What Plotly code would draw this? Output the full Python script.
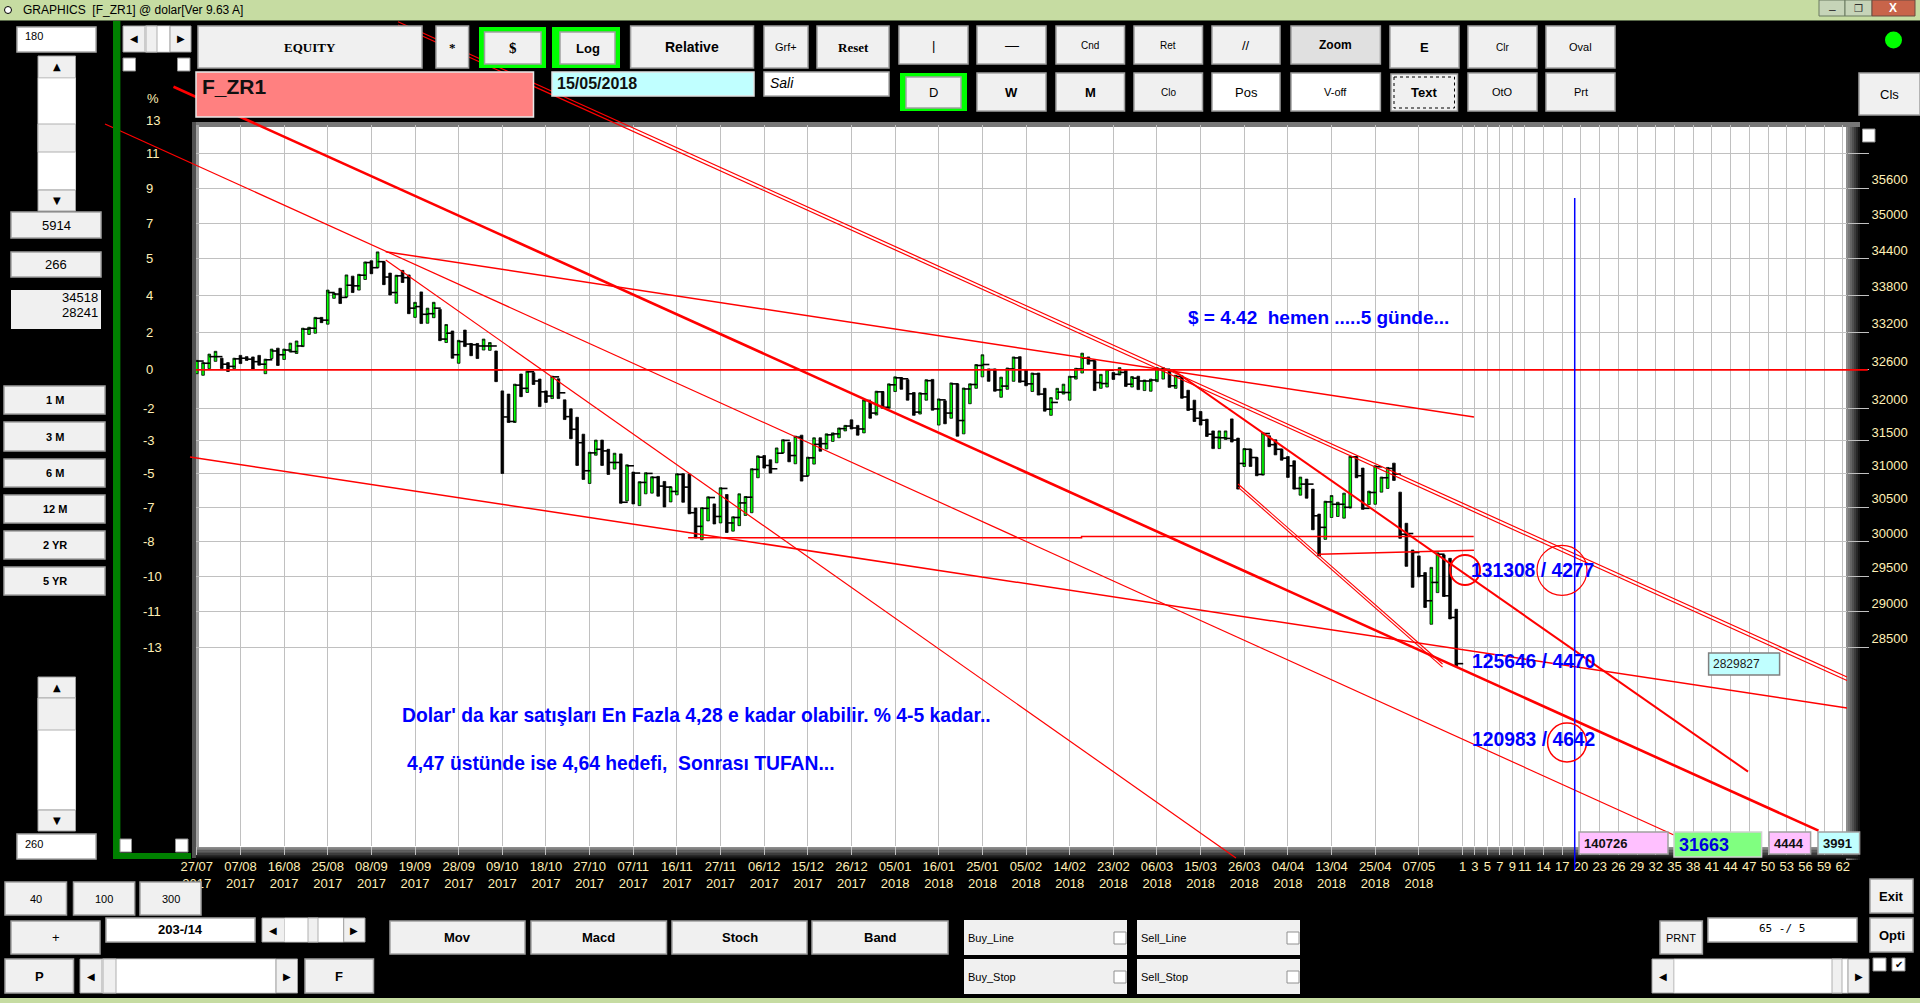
import numpy as np
import plotly.graph_objects as go

W, H = 1920, 1003
NARROW = "Liberation Sans"
SANS = "Liberation Sans"
SERIF = "Liberation Serif"
CREAM = "#ffefb5"

# bars (203 days), G = green bar, K = black bar
UP = ("GGGGKKGKKK" "KGGKGGGGGG" "KGGKGKGGKG" "KKGKKGKGGK" "GKGKKKGGKK"
      "KGKGKKKGKK" "KKKGGKKGKG" "KGGGKKGGKK" "KGGKGKGGGG" "GKKGGKGKGG"
      "KGGGGKKGKG" "KGGKKKGGKG" "KGKGGGGKKG" "GGKKGKKGGG" "GGGKKGGKGK"
      "GKGGGGKGKK" "KKKKGGKKGK" "KGKKKKKGKK" "KGGGGGKKGG" "GGKKKKKKGG"
      "KKK")

HIGHS = [32750, 32715, 32850, 32895, 32785, 32715, 32785, 32830, 32810, 32805,
         32830, 32770, 32930, 32945, 32930, 33025, 33060, 33265, 33280, 33440,
         33440, 33885, 33835, 33915, 34135, 34115, 34145, 34350, 34370, 34518,
         34355, 34165, 34130, 34210, 34135, 33685, 33855, 33590, 33685, 33570,
         33325, 33220, 33070, 33235, 33020, 33020, 33090, 33035, 32900, 32270,
         32220, 32375, 32535, 32580, 32555, 32455, 32270, 32500, 32460, 32130,
         31990, 31860, 31600, 31325, 31510, 31510, 31370, 31310, 31300, 31135,
         31025, 30880, 31015, 30955, 30960, 30885, 30805, 31000, 31000, 30995,
         30490, 30495, 30655, 30550, 30790, 30690, 30360, 30700, 30660, 31075,
         31270, 31275, 31210, 31390, 31515, 31475, 31570, 31585, 31250, 31545,
         31545, 31605, 31620, 31695, 31735, 31820, 31735, 32130, 32105, 32265,
         32260, 32380, 32490, 32480, 32445, 32245, 32240, 32445, 32450, 32145,
         32115, 32395, 32380, 32315, 32380, 32685, 32840, 32615, 32615, 32485,
         32630, 32805, 32810, 32600, 32550, 32550, 32310, 32165, 32310, 32375,
         32500, 32625, 32865, 32805, 32745, 32530, 32605, 32560, 32635, 32600,
         32495, 32500, 32440, 32455, 32635, 32635, 32595, 32515, 32505, 32280,
         32125, 31950, 31830, 31650, 31650, 31650, 31835, 31540, 31380, 31370,
         31245, 31620, 31575, 31515, 31370, 31260, 31195, 30950, 30920, 30770,
         30400, 30590, 30675, 30575, 30710, 31265, 31260, 31085, 30740, 31120,
         30950, 31095, 31160, 30725, 30265, 29875, 29790, 29550, 29625, 29835,
         29805, 29755, 29030]

LOWS = [32540, 32515, 32620, 32735, 32620, 32575, 32620, 32700, 32750, 32610,
        32675, 32540, 32780, 32670, 32765, 32885, 32860, 32970, 33165, 33185,
        33355, 33330, 33750, 33665, 33770, 33845, 33885, 34060, 34155, 34255,
        33975, 33805, 33670, 34010, 33500, 33440, 33340, 33345, 33435, 33065,
        33035, 32785, 32705, 32970, 32825, 32780, 32915, 32910, 32415, 31005,
        31780, 31780, 32180, 32245, 32370, 32025, 32090, 32150, 32150, 31825,
        31530, 31125, 30915, 30855, 31280, 31125, 30990, 31070, 30560, 30595,
        30550, 30525, 30700, 30710, 30665, 30505, 30580, 30685, 30575, 30405,
        30050, 30025, 30300, 30255, 30270, 30130, 30150, 30230, 30380, 30420,
        30940, 31085, 31010, 31165, 31315, 31180, 31150, 30890, 30970, 31145,
        31340, 31375, 31490, 31545, 31650, 31680, 31585, 31620, 31845, 31895,
        32000, 32000, 32260, 32295, 32125, 31890, 31910, 32125, 31970, 31740,
        31760, 31845, 31570, 31605, 32070, 32310, 32490, 32420, 32265, 32170,
        32295, 32420, 32405, 32350, 32260, 32205, 31955, 31890, 32140, 32220,
        32125, 32455, 32550, 32690, 32275, 32310, 32330, 32450, 32520, 32340,
        32330, 32290, 32275, 32265, 32415, 32455, 32325, 32310, 32155, 31965,
        31795, 31740, 31565, 31380, 31380, 31520, 31480, 30770, 31110, 31110,
        30970, 30980, 31410, 31285, 31205, 30945, 30770, 30680, 30635, 30170,
        29790, 30030, 30350, 30365, 30340, 30490, 30940, 30470, 30540, 30545,
        30725, 30780, 30900, 30045, 29640, 29340, 29490, 29055, 28820, 29265,
        29210, 28895, 28241]

CLOSES = [32740, 32705, 32810, 32810, 32690, 32655, 32775, 32785, 32770, 32730,
          32690, 32760, 32900, 32840, 32915, 32890, 32980, 33250, 33265, 33425,
          33395, 33845, 33820, 33765, 33965, 33955, 34130, 34340, 34255, 34355,
          34100, 33845, 34120, 34090, 33590, 33615, 33490, 33500, 33590, 33090,
          33185, 32840, 33050, 33010, 33000, 32980, 32980, 32980, 32600, 31865,
          31795, 32360, 32310, 32570, 32425, 32255, 32190, 32490, 32240, 31870,
          31675, 31470, 31045, 31315, 31370, 31345, 31170, 31170, 30575, 31120,
          31010, 30870, 31005, 30945, 30815, 30800, 30735, 30990, 30800, 30420,
          30220, 30485, 30645, 30365, 30780, 30270, 30350, 30565, 30650, 31065,
          31250, 31125, 31075, 31310, 31505, 31275, 31555, 30965, 31240, 31445,
          31455, 31590, 31605, 31685, 31725, 31695, 31680, 32120, 31925, 32255,
          32015, 32365, 32475, 32460, 32225, 31940, 32225, 32430, 31990, 32130,
          31925, 32380, 31810, 32300, 32370, 32670, 32685, 32605, 32285, 32345,
          32615, 32790, 32420, 32380, 32535, 32220, 31985, 32090, 32250, 32245,
          32490, 32615, 32785, 32745, 32400, 32385, 32595, 32530, 32560, 32375,
          32470, 32425, 32425, 32440, 32610, 32610, 32350, 32495, 32175, 31985,
          31845, 31815, 31600, 31550, 31545, 31535, 31510, 31155, 31370, 31245,
          30990, 31610, 31440, 31370, 31235, 31120, 30780, 30845, 30845, 30375,
          30205, 30580, 30545, 30545, 30500, 31255, 30970, 30485, 30720, 31105,
          30940, 31080, 30995, 30105, 30115, 29840, 29505, 29150, 29410, 29815,
          29220, 28915, 28275]

DATE_LABELS = ["27/07", "07/08", "16/08", "25/08", "08/09", "19/09", "28/09", "09/10",
               "18/10", "27/10", "07/11", "16/11", "27/11", "06/12", "15/12", "26/12"]
DATE_LABELS_18 = ["05/01", "16/01", "25/01", "05/02", "14/02", "23/02", "06/03", "15/03",
                  "26/03", "04/04", "13/04", "25/04", "07/05"]
FUTURE_2 = [1, 3, 5, 7, 9, 11]
FUTURE_3 = [14, 17, 20, 23, 26, 29, 32, 35, 38, 41, 44, 47, 50, 53, 56, 59, 62]

GRID_PRICES = [36200, 35600, 35000, 34400, 33800, 33200, 32600, 32000, 31500, 31000,
               30500, 30000, 29500, 29000, 28500]
PCT_LABELS = ["11", "9", "7", "5", "4", "2", "0", "-2", "-3", "-5", "-7", "-8", "-10", "-11", "-13"]

# trend lines: bar number / price
THICK_X, THICK_Y = [-3.74, 260.1], [37394, 26077]
CHAN_A_X, CHAN_A_Y = [32.27, 264.67], [38591, 28093]
CHAN_B_X, CHAN_B_Y = [32.27, 264.67], [38530, 28045]
THIN_A_X, THIN_A_Y = [-14.72, 236.9], [36725, 26023]
THIN_B_X, THIN_B_Y = [30.3, 166.67], [34383, 25735]
LOW_X, LOW_Y = [-1.09, 264.67], [31253, 27674]
HIGH_X, HIGH_Y = [30.3, 204.84], [34521, 31865]
ZERO_X, ZERO_Y = [-0.13, 268.0], [32600, 32600]
FLAT_X, FLAT_Y = [78.8, 141.9, 141.9, 204.8], [30055, 30055, 30070, 30070]
FLAT2_X, FLAT2_Y = [180, 204.84], [29814, 29872]
MID_X, MID_Y = [156.57, 248.8], [32598, 26833]
SHORT_A_X, SHORT_A_Y = [167, 199.8], [30847, 28270]
SHORT_B_X, SHORT_B_Y = [167, 199.8], [30800, 28228]
BLUE_X, BLUE_Y = [221, 221], [35430, 25585]


def px(x):
    return x / W


def py(y):
    return 1 - y / H


shapes = []
notes = []


def rect(x0, y0, x1, y1, fill, line=None, layer="above", lw=1):
    shapes.append(dict(type="rect", xref="paper", yref="paper", x0=px(x0), x1=px(x1),
                       y0=py(y0), y1=py(y1), fillcolor=fill, layer=layer,
                       line=dict(color=line or fill, width=lw if line else 0)))


def oval(x, y, r, color, lw, fill="rgba(0,0,0,0)"):
    shapes.append(dict(type="circle", xref="paper", yref="paper", x0=px(x - r), x1=px(x + r),
                       y0=py(y - r), y1=py(y + r), fillcolor=fill, layer="above",
                       line=dict(color=color, width=lw)))


def text(x, y, s, size=12, color="black", font=NARROW, anchor="center", bold=False):
    if bold:
        s = "<b>" + s + "</b>"
    notes.append(dict(xref="paper", yref="paper", x=px(x), y=py(y), text=s, showarrow=False,
                      xanchor=anchor, yanchor="middle", font=dict(family=font, size=size, color=color)))


def button(x0, y0, x1, y1, label, size=11, font=NARROW, bold=False, fill="#f0f0f0"):
    rect(x0, y0, x1, y1, fill, "#a0a0a0", lw=1.5)
    text((x0 + x1) / 2, (y0 + y1) / 2, label, size, font=font, bold=bold)


def box(x0, y0, x1, y1, fill="white"):
    rect(x0, y0, x1, y1, fill, "#a8a8a8", lw=1.5)


def check(x0, y0, x1, y1, on=False):
    rect(x0, y0, x1, y1, "white", "#909090", lw=1)
    if on:
        text((x0 + x1) / 2, (y0 + y1) / 2, "✔", 10, font="DejaVu Sans")


def arrow_btn(x0, y0, x1, y1, a):
    rect(x0, y0, x1, y1, "#f0f0f0", "#a0a0a0", lw=1)
    text((x0 + x1) / 2, (y0 + y1) / 2, a, 10, font="DejaVu Sans")


# window frame
rect(0, 0, W, 20, "#c6dca2")
rect(0, 20, W, 21, "#5a6a4a")
rect(0, 998, W, H, "#c6dca2")
oval(8, 10, 3.5, "black", 1, "white")
text(21, 10, "GRAPHICS  [F_ZR1] @ dolar[Ver 9.63 A]", 12, anchor="left")
rect(1819, 0, 1845, 16, "#c6d4b8", "#6a7a60")
rect(1845, 0, 1872, 16, "#c6d4b8", "#6a7a60")
rect(1872, 0, 1915, 16, "#c8644a", "#6a4a40")
text(1832, 10, "–", 12, "#303030", SANS)
text(1858, 8, "❐", 10, "#303030", "DejaVu Sans")
text(1893, 8, "X", 12, "white", SANS, bold=True)

# white panel and the bevel round it
rect(196, 125, 1847, 847, "white", layer="below")
for k in range(7):
    g = 140 - k * 20
    c = f"rgb({g},{g},{g})"
    rect(1846 + k * 2, 125, 1848 + k * 2, 860, c, layer="below")
    rect(196, 847 + k * 1.6, 1860, 849 + k * 1.6, c, layer="below")
rect(193, 122, 1860, 127, "#787878", layer="below")
rect(192, 122, 196, 858, "#505050", layer="below")
rect(196, 125, 199, 847, "#a0a0a0", layer="below")

# green frame
rect(113, 21, 120.4, 859, "#008000")
rect(113, 853, 191, 859, "#008000")

# left column
box(17, 27, 96, 52)
text(23, 36, "180", 11, anchor="left")
arrow_btn(38, 56, 75.5, 78, "▲")
rect(38, 78, 75.5, 190, "white", "#d0d0d0")
rect(38, 124, 75.5, 152, "#f0f0f0", "#b0b0b0")
arrow_btn(38, 190, 75.5, 211, "▼")
button(11, 212, 101, 238, "5914", 13)
button(11, 252, 101, 277, "266", 13)
rect(11, 290, 101, 329, "#f0f0f0")
text(100, 297, "34518", 13, anchor="right")
text(100, 312, "28241", 13, anchor="right")
for y0, y1, label in [(386, 414, "1 M"), (422, 451, "3 M"), (459, 487, "6 M"),
                      (495, 523, "12 M"), (531, 559, "2 YR"), (567, 595, "5 YR")]:
    button(4, y0, 105, y1, label, 11, bold=True)
arrow_btn(38, 677, 75.5, 698, "▲")
rect(38, 698, 75.5, 810, "white", "#d0d0d0")
rect(38, 698, 75.5, 730, "#f0f0f0", "#b0b0b0")
arrow_btn(38, 810, 75.5, 831, "▼")
box(17, 834, 96, 859)
text(23, 844, "260", 11, anchor="left")
check(120, 839, 131.5, 852)
check(175.5, 839, 188, 852)
text(153, 99, "%", 13, CREAM)

# top bar
arrow_btn(123, 26, 145, 52, "◀")
rect(145, 26, 170, 52, "white", "#d0d0d0")
rect(146, 26, 157, 52, "#f0f0f0", "#b0b0b0")
arrow_btn(170, 26, 191, 52, "▶")
check(123, 58, 135.5, 71)
check(177.5, 58, 190, 71)
button(198, 26, 422, 68, "EQUITY", 13, SERIF, True)
button(436, 26, 468.6, 68, "*", 13, SERIF, True)
rect(479, 27, 546, 68, "#00ff00")
button(484.5, 32, 541, 64, "$", 15, SERIF, True)
rect(552, 27, 620, 68, "#00ff00")
button(560, 32, 615, 64, "Log", 13, SANS, True)
button(630.6, 26, 753.5, 68, "Relative", 14, SANS, True)
button(764, 26, 808, 68, "Grf+", 11)
button(817, 26, 889, 68, "Reset", 13, SERIF, True)
rect(196, 72, 533.5, 117, "#ff8080", "#e8e8e8", lw=1.5)
text(200, 87, "F_ZR1", 21, "#101010", SANS, "left", True)
rect(552, 72, 754, 96, "#c0ffff", "#e0e0e0", lw=1.5)
text(555, 83, "15/05/2018", 16, "#101010", SANS, "left", True)
box(764, 72, 889, 96)
text(768, 83, "<i>Sali</i>", 14, anchor="left")

for x0, x1, label, size in [(899, 968, "|", 13), (977, 1046, "—", 14), (1056, 1124.5, "Cnd", 10),
                            (1134, 1202.5, "Ret", 10), (1212, 1280, "//", 13)]:
    button(x0, 26, x1, 64, label, size)
button(1291, 26, 1380.4, 64, "Zoom", 12, SANS, True, "#e0e0e0")
button(1390, 26, 1459, 68, "E", 13, SANS, True)
button(1468, 26, 1537, 68, "Clr", 10)
button(1546, 26, 1615, 68, "Oval", 11)
rect(900, 73, 967, 111, "#00ff00")
button(906, 77, 961, 108, "D", 13)
button(977, 73, 1046, 111, "W", 13, SANS, True)
button(1056, 73, 1124.5, 111, "M", 13, SANS, True)
button(1134, 73, 1202.5, 111, "Clo", 10)
button(1212, 73, 1280, 111, "Pos", 13, fill="white")
button(1291, 73, 1380.4, 111, "V-off", 11, fill="white")
button(1391, 74, 1457.5, 111, "Text", 13, SANS, True)
shapes.append(dict(type="rect", xref="paper", yref="paper", x0=px(1394), x1=px(1454.5), y0=py(77),
                   y1=py(108), line=dict(color="black", width=1, dash="dot"), layer="above"))
button(1468, 73, 1537, 111, "OtO", 11)
button(1546, 73, 1615, 111, "Prt", 11)
oval(1893.5, 40, 8.5, "#00ff00", 0, "#00ff00")
button(1859, 73, 1920, 115, "Cls", 13)
check(1862.5, 129, 1875, 142)

# bottom controls
for x0, x1, label in [(5, 66.5, "40"), (73.5, 134.7, "100"), (140, 201, "300")]:
    button(x0, 882, x1, 915, label, 11)
button(11, 921, 100, 954, "+", 13)
box(106, 918, 255, 942)
text(180, 929, "203-/14", 13, font=SANS, bold=True)
arrow_btn(262, 918, 284.5, 942, "◀")
rect(284.5, 918, 343.7, 942, "white", "#d0d0d0")
rect(308, 918, 318, 942, "#f0f0f0", "#b0b0b0")
arrow_btn(343.7, 918, 365, 942, "▶")
button(5, 959, 73.5, 993, "P", 13, SANS, True)
arrow_btn(80, 959, 102, 993, "◀")
rect(102, 959, 276, 993, "white", "#d0d0d0")
rect(103, 959, 116, 993, "#f0f0f0", "#b0b0b0")
arrow_btn(276, 959, 297.5, 993, "▶")
button(305, 959, 373.5, 993, "F", 13, SANS, True)
for x0, x1, label in [(390, 525, "Mov"), (531, 666.5, "Macd"), (672, 807, "Stoch"), (812, 948, "Band")]:
    button(x0, 921, x1, 954, label, 13, SANS, True)
for x0, x1, y0, y1, label in [(964, 1127, 920, 955, "Buy_Line"), (964, 1127, 959, 994, "Buy_Stop"),
                              (1137, 1300, 920, 955, "Sell_Line"), (1137, 1300, 959, 994, "Sell_Stop")]:
    rect(x0, y0, x1, y1, "#f0f0f0")
    text(x0 + 2, (y0 + y1) / 2, label, 11, anchor="left")
    check(x1 - 13, y0 + 12, x1 - 1, y0 + 24)
button(1660, 921, 1702.4, 954, "PRNT", 11)
box(1708, 918, 1857, 942)
text(1782, 928, "65 -/ 5", 11, font="DejaVu Sans Mono")
button(1870, 879, 1913, 913, "Exit", 13, SANS, True)
button(1870, 918, 1913, 952, "Opti", 13, SANS, True)
arrow_btn(1652, 959, 1674, 993, "◀")
rect(1674, 959, 1848, 993, "white", "#d0d0d0")
rect(1832, 959, 1842, 993, "#f0f0f0", "#b0b0b0")
arrow_btn(1848, 959, 1869, 993, "▶")
check(1873, 958, 1886, 971)
check(1892, 958, 1905, 971, True)

# value boxes on the panel
rect(1579, 832, 1668, 854, "#ffc0ff", "#a0a0a0", lw=1.5)
text(1582, 843, "140726", 13, "#101010", SANS, "left", True)
rect(1674, 832, 1761.6, 857, "#80ff80", "#d0d0d0", lw=1.5)
text(1677, 845, "31663", 18, "#0000e0", SANS, "left", True)
rect(1769, 832, 1810.6, 854, "#ffc0ff", "#a0a0a0", lw=1.5)
text(1772, 843, "4444", 13, "#101010", SANS, "left", True)
rect(1818, 832, 1859.6, 854, "#c0ffff", "#a0a0a0", lw=1.5)
text(1821, 843, "3991", 13, "#101010", SANS, "left", True)
rect(1708.6, 653, 1779.6, 675, "#c0ffff", "#808080", lw=1.5)
text(1711, 664, "2829827", 12, "#202020", SANS, "left")

# ovals round the targets
oval(1465, 570, 15, "#ff0000", 2)
oval(1562, 570.3, 25, "#ff0000", 1.2)
oval(1567, 742.5, 19.4, "#ff0000", 1.5)

# comments typed on the chart
BLUE = "#0000ff"
text(1186, 318, "$ = 4.42\u00a0\u00a0hemen .....5 günde...", 19, BLUE, SANS, "left", True)
text(400, 715, "Dolar' da kar satışları En Fazla 4,28 e kadar olabilir. % 4-5 kadar..", 19.3, BLUE, SANS, "left", True)
text(404.5, 763, "4,47 üstünde ise 4,64 hedefi,\u00a0\u00a0Sonrası TUFAN...", 19.3, BLUE, SANS, "left", True)
text(1469, 570, "131308 / 4277", 19.3, BLUE, SANS, "left", True)
text(1469.6, 661.7, "125646 / 4470", 19.3, BLUE, SANS, "left", True)
text(1469.6, 739, "120983 / 4642", 19.3, BLUE, SANS, "left", True)

# percent scale on the left, same grid as the price axis
text(144, 120, "13", 13, CREAM, anchor="left")
for price, label in zip(GRID_PRICES, PCT_LABELS):
    notes.append(dict(xref="paper", yref="y", x=px(141 if label.startswith("-") else 144),
                      y=np.log10(price), text=label, showarrow=False, xanchor="left", yanchor="middle",
                      font=dict(family=SANS, size=13, color=CREAM)))

idx = np.arange(len(HIGHS))
highs, lows, closes = np.array(HIGHS), np.array(LOWS), np.array(CLOSES)
up = np.array([c == "G" for c in UP])

fig = go.Figure()
fig.add_trace(go.Candlestick(
    x=idx, open=np.where(up, lows, highs), high=highs, low=lows, close=np.where(up, highs, lows),
    increasing=dict(line=dict(color="black", width=0.8), fillcolor="#00ff00"),
    decreasing=dict(line=dict(color="black", width=0.8), fillcolor="black"),
    whiskerwidth=0, hoverinfo="skip", showlegend=False))
fig.add_trace(go.Scatter(
    x=idx + 0.55, y=closes, mode="markers", hoverinfo="skip", showlegend=False,
    marker=dict(symbol="line-ew", size=5, line=dict(color="black", width=1.6))))


# the drawn lines run past the panel, so they sit on a full-window copy of the same scales
def trend(x, y, width, color="#ff0000"):
    fig.add_trace(go.Scatter(x=x, y=y, xaxis="x2", yaxis="y2", mode="lines", hoverinfo="skip",
                             showlegend=False, line=dict(color=color, width=width)))


trend(ZERO_X, ZERO_Y, 1.6)
trend(THIN_A_X, THIN_A_Y, 1.2)
trend(THIN_B_X, THIN_B_Y, 1.2)
trend(LOW_X, LOW_Y, 1.5)
trend(HIGH_X, HIGH_Y, 1.5)
trend(FLAT_X, FLAT_Y, 1.5)
trend(FLAT2_X, FLAT2_Y, 1.3)
trend(CHAN_A_X, CHAN_A_Y, 1.2)
trend(CHAN_B_X, CHAN_B_Y, 1.2)
trend(SHORT_A_X, SHORT_A_Y, 1.1)
trend(SHORT_B_X, SHORT_B_Y, 1.1)
trend(MID_X, MID_Y, 2)
trend(THICK_X, THICK_Y, 2.6)
trend(BLUE_X, BLUE_Y, 1.5, "#0000ff")

x_vals = [i * 7 for i in range(len(DATE_LABELS) + len(DATE_LABELS_18))]
x_text = [d + "<br>2017" for d in DATE_LABELS] + [d + "<br>2018" for d in DATE_LABELS_18]
x_vals += [202 + n for n in FUTURE_2] + [202 + n for n in FUTURE_3]
x_text += [str(n) for n in FUTURE_2] + [str(n) for n in FUTURE_3]

y_text = [""] + [str(p) + "<br> " for p in GRID_PRICES[1:]]

x_lo, x_hi = -0.13, 264.67
y_lo, y_hi = np.log10(25884), np.log10(36707)
x_per_px = (x_hi - x_lo) / (1847 - 196)
y_per_px = (y_hi - y_lo) / (846 - 125)

fig.update_layout(
    width=W, height=H, autosize=False, margin=dict(l=0, r=0, t=0, b=0),
    paper_bgcolor="black", plot_bgcolor="rgba(0,0,0,0)", hovermode=False, showlegend=False,
    boxgap=0.4, shapes=shapes, annotations=notes,
    xaxis=dict(domain=[px(196), px(1847)], range=[x_lo, x_hi], tickmode="array", automargin=False,
               tickvals=x_vals, ticktext=x_text, showgrid=True, gridcolor="#c0c0c0", gridwidth=1.4,
               zeroline=False, ticks="outside", ticklen=8, tickcolor="#c0c0c0", tickwidth=1.4,
               tickangle=0, tickfont=dict(family=SANS, size=13, color=CREAM),
               rangeslider=dict(visible=False), showline=False),
    yaxis=dict(domain=[py(846), py(125)], type="log", range=[y_lo, y_hi],
               side="right", tickmode="array", tickvals=GRID_PRICES, ticktext=y_text, automargin=False,
               showgrid=True, gridcolor="#c0c0c0", gridwidth=1.4, zeroline=False, ticks="outside",
               ticklen=21, tickcolor="#c0c0c0", tickwidth=1.4,
               tickfont=dict(family=SANS, size=13, color=CREAM), showline=False),
    xaxis2=dict(domain=[0, 1], anchor="y2", visible=False, automargin=False,
                range=[x_lo - 196 * x_per_px, x_hi + (W - 1847) * x_per_px]),
    yaxis2=dict(domain=[0, 1], anchor="x2", visible=False, automargin=False, type="log",
                range=[y_lo - (H - 846) * y_per_px, y_hi + 125 * y_per_px]),
)

fig.write_html("out.html", config={"displayModeBar": False},
               post_script="document.body.style.margin='0';document.body.style.background='black';"
                           "document.body.style.overflow='hidden';")
